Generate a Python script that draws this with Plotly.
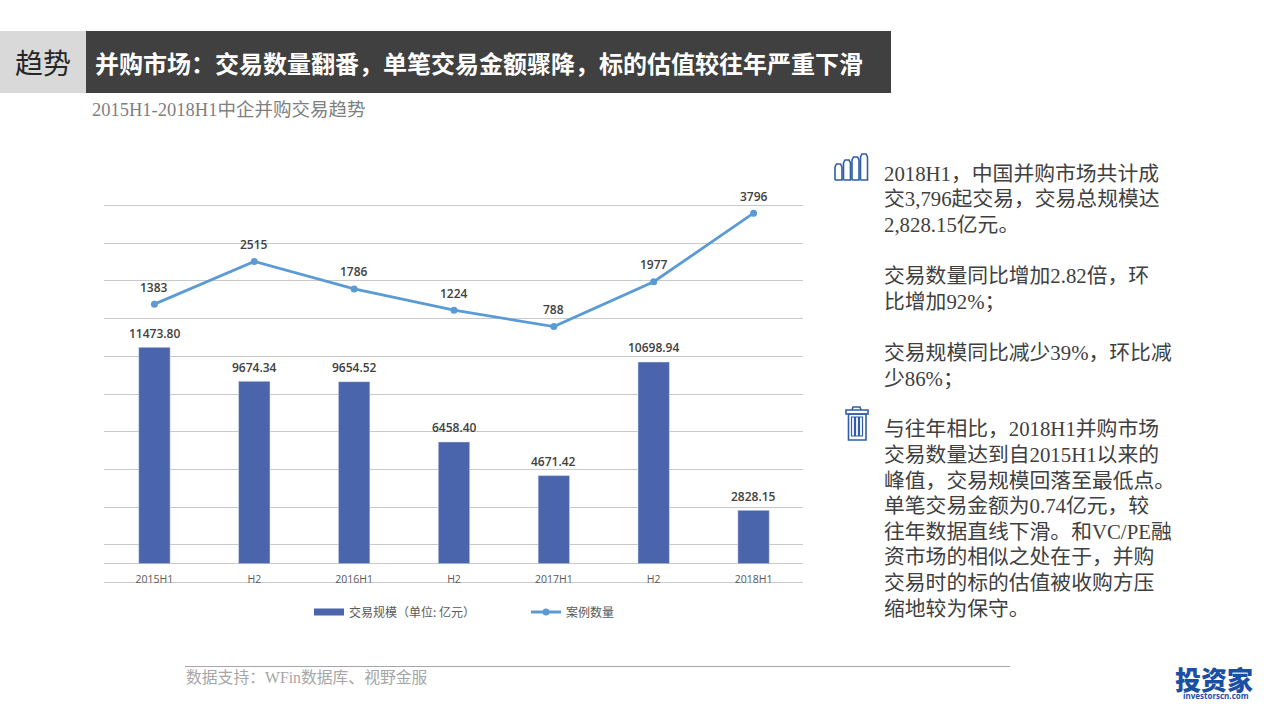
import plotly.graph_objects as go

categories = ["2015H1", "H2", "2016H1", "H2 ", "2017H1", "H2  ", "2018H1"]
deal_value = [11473.80, 9674.34, 9654.52, 6458.40, 4671.42, 10698.94, 2828.15]
deal_count = [1383, 2515, 1786, 1224, 788, 1977, 3796]
value_name = "交易规模（单位: 亿元）"
count_name = "案例数量"
section = "趋势"
title = "并购市场：交易数量翻番，单笔交易金额骤降，标的估值较往年严重下滑"
subtitle = "2015H1-2018H1中企并购交易趋势"
source = "数据支持：WFin数据库、视野金服"
body_lines = [
    ("2018H1，中国并购市场共计成", 173), ("交3,796起交易，交易总规模达", 198.5), ("2,828.15亿元。", 224),
    ("交易数量同比增加2.82倍，环", 275), ("比增加92%；", 301),
    ("交易规模同比减少39%，环比减", 352), ("少86%；", 378),
    ("与往年相比，2018H1并购市场", 428), ("交易数量达到自2015H1以来的", 454),
    ("峰值，交易规模回落至最低点。", 480), ("单笔交易金额为0.74亿元，较", 505),
    ("往年数据直线下滑。和VC/PE融", 531), ("资市场的相似之处在于，并购", 556),
    ("交易时的标的估值被收购方压", 582), ("缩地较为保守。", 608),
]

# plot area extends a few pixels beyond the outer gridlines so that they are drawn
L, R, T, B = 104, 803, 203, 585
W, H = 1280, 720
px = lambda x: (x - L) / (R - L)
py = lambda y: (B - y) / (B - T)
SERIF = "Liberation Serif, Noto Sans CJK SC, serif"
SANS = "Noto Sans CJK SC, sans-serif"
LABEL = "Open Sans, Noto Sans CJK SC, sans-serif"
BLUE = "#2F5DA8"

fig = go.Figure()
fig.add_trace(go.Bar(x=categories, y=deal_value, width=0.315, marker_color="#4A65AB",
                     showlegend=False, yaxis="y", cliponaxis=False))
# legend swatch for the bars (wide flat key as in the reference)
fig.add_trace(go.Scatter(x=[None], y=[None], mode="lines", name=value_name,
                         line=dict(color="#4A65AB", width=7)))
fig.add_trace(go.Scatter(x=categories, y=deal_count, name=count_name, yaxis="y2",
                         mode="lines+markers", line=dict(color="#5B9BD5", width=2.8),
                         marker=dict(size=7, color="#5B9BD5")))

ann = []
def text(x, y, s, size, color, family=SERIF, anchor="left", weight=None):
    f = dict(size=size, color=color, family=family)
    if weight:
        f["weight"] = weight
    ann.append(dict(x=px(x), y=py(y), xref="paper", yref="paper", text=s, showarrow=False,
                    xanchor=anchor, yanchor="middle", font=f, borderpad=0, borderwidth=0))

for c, v in zip(categories, deal_value):
    ann.append(dict(x=c, y=v, xref="x", yref="y", text=f"{v:.2f}", showarrow=False, yshift=14,
                    yanchor="middle", font=dict(size=12, color="#404040", family=LABEL, weight=600)))
for c, v in zip(categories, deal_count):
    ann.append(dict(x=c, y=v, xref="x", yref="y2", text=str(v), showarrow=False, yshift=17,
                    yanchor="middle", font=dict(size=12, color="#404040", family=LABEL, weight=600)))

text(15, 64, section, 28, "#262626")
text(95, 62.5, title, 24, "#FFFFFF", SANS, weight=700)
text(92, 110, subtitle, 18.5, "#7F7F7F")
text(186, 677, source, 15.8, "#A6A6A6")
for s, y in body_lines:
    text(883.5, y, s, 20.8, "#404040")
text(1214, 678.5, "投资家", 26, "#1B4FA3", SANS, anchor="center", weight=900)
text(1216, 695.5, "investorscn.com", 8, "#1B4FA3", LABEL, anchor="center", weight=700)

shapes = []
def rect(x0, y0, x1, y1, fill=None, line=None, lw=0):
    shapes.append(dict(type="rect", xref="paper", yref="paper", x0=px(x0), x1=px(x1), y0=py(y1), y1=py(y0),
                       fillcolor=fill or "rgba(0,0,0,0)", line=dict(color=line or "rgba(0,0,0,0)", width=lw),
                       layer="above" if line else "below"))
def path(points, color, lw=1.6):
    d = " ".join(f"{'M' if i == 0 else 'L'}{px(x):.5f},{py(y):.5f}" for i, (x, y) in enumerate(points))
    shapes.append(dict(type="path", xref="paper", yref="paper", path=d,
                       line=dict(color=color, width=lw), fillcolor="rgba(0,0,0,0)"))

rect(0, 31, 86, 93, fill="#D9D9D9")
rect(86, 31, 891, 93, fill="#404040")
shapes.append(dict(type="line", xref="paper", yref="paper", x0=px(185), x1=px(1010), y0=py(666.5), y1=py(666.5),
                   line=dict(color="#A9A4AC", width=1)))

# bar-chart icon
for x0, top in [(835, 164), (843.5, 160), (852, 157), (860.5, 154)]:
    x1 = x0 + 7
    path([(x0, 180), (x0, top + 3), (x0 + 1.5, top), (x1 - 1.5, top), (x1, top + 3), (x1, 180), (x0, 180)], BLUE)
# trash icon
rect(846, 410, 868, 414, line=BLUE, lw=1.6)
rect(848.5, 414, 866, 440, line=BLUE, lw=1.6)
path([(852, 410), (853, 407), (860, 407), (861, 410)], BLUE)
for x0 in (851.5, 855.5, 859.5):
    rect(x0, 417, x0 + 3, 436, line=BLUE, lw=1.2)

# value per pixel on each axis: outer gridlines stay at -1000 / 19000 and -6000 / 4000
u1 = 20000 / 377
u2 = 10000 / 377
fig.update_layout(
    width=W, height=H, autosize=False, paper_bgcolor="#FFFFFF", plot_bgcolor="#FFFFFF",
    margin=dict(l=L, r=W - R, t=T, b=H - B, pad=0),
    xaxis=dict(type="category", categoryorder="array", categoryarray=categories,
               range=[-0.505, 6.495], anchor="free", position=(B - 563.5) / (B - T), showline=False, showgrid=False,
               ticks="outside", ticklen=6, tickcolor="rgba(0,0,0,0)",
               tickvals=categories, ticktext=[c.strip() for c in categories],
               tickfont=dict(size=10.5, color="#595959", family=LABEL)),
    yaxis=dict(range=[-1000 - 2.5 * u1, 19000 + 2.5 * u1], tick0=-1000, dtick=2000, showticklabels=False, ticks="",
               showgrid=True, gridcolor="#C9C9C9", gridwidth=1, zeroline=True, zerolinecolor="#C9C9C9", zerolinewidth=1,
               showline=False),
    yaxis2=dict(range=[-6000 - 2.5 * u2, 4000 + 2.5 * u2], overlaying="y", side="right", showticklabels=False, showgrid=False,
                zeroline=False, ticks="", showline=False),
    legend=dict(orientation="h", x=px(309), y=py(612), xanchor="left", yanchor="middle",
                font=dict(size=12, color="#595959", family=SANS), bgcolor="rgba(0,0,0,0)",
                itemwidth=30, entrywidth=172, entrywidthmode="pixels", tracegroupgap=0),
    annotations=ann, shapes=shapes, hovermode=False, bargap=0.68,
)
fig.write_html("out.html", config=dict(displayModeBar=False),
               post_script="document.body.style.margin='0';document.body.style.overflow='hidden';")
